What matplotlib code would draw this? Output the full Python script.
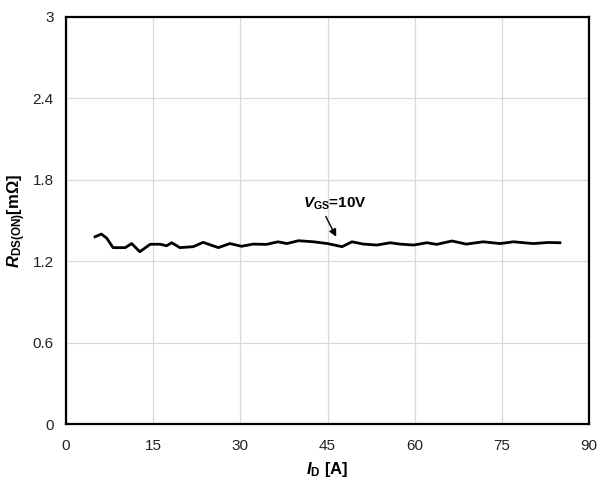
import numpy as np
import matplotlib
matplotlib.use("Agg")
import matplotlib.pyplot as plt

# Data (I_D in A, R_DS(on) in mOhm)
i_d = [5.0, 6.1, 7.0, 8.1, 10.2, 11.3, 12.7, 14.5, 16.2, 17.3, 18.2, 19.6,
       21.9, 23.6, 26.2, 28.2, 30.2, 32.2, 34.5, 36.5, 38.0, 40.0, 42.6,
       45.0, 47.5, 49.2, 51.2, 53.5, 55.8, 57.5, 59.8, 62.1, 63.8, 66.4,
       68.9, 71.8, 74.7, 77.0, 80.4, 83.0, 85.0]
r_ds = [1.38, 1.40, 1.37, 1.30, 1.30, 1.33, 1.27, 1.325, 1.325, 1.314, 1.336, 1.30,
        1.307, 1.339, 1.30, 1.33, 1.31, 1.326, 1.324, 1.343, 1.33, 1.351, 1.343,
        1.33, 1.307, 1.343, 1.326, 1.319, 1.336, 1.326, 1.319, 1.336, 1.324, 1.349,
        1.326, 1.343, 1.33, 1.343, 1.33, 1.338, 1.336]

x_ticks = [0, 15, 30, 45, 60, 75, 90]
y_ticks = [0, 0.6, 1.2, 1.8, 2.4, 3.0]
y_tick_labels = ["0", "0.6", "1.2", "1.8", "2.4", "3"]

plt.rcParams["font.family"] = ["Liberation Sans", "DejaVu Sans"]
plt.rcParams["mathtext.fontset"] = "custom"
plt.rcParams["mathtext.rm"] = "Liberation Sans:bold"
plt.rcParams["mathtext.bf"] = "Liberation Sans:bold"
plt.rcParams["mathtext.it"] = "Liberation Sans:italic:bold"

fig = plt.figure(figsize=(5.98, 4.84), dpi=100)
ax = fig.add_axes([66 / 598, 60 / 484, 523 / 598, 407 / 484])

ax.plot(i_d, r_ds, color="black", lw=2.0, solid_joinstyle="round")

ax.set_xlim(0, 90)
ax.set_ylim(0, 3)
ax.set_xticks(x_ticks)
ax.set_yticks(y_ticks)
ax.set_yticklabels(y_tick_labels)
ax.tick_params(length=0, labelsize=11, colors="#222222")
ax.tick_params(axis="x", pad=11)
ax.tick_params(axis="y", pad=9)
ax.grid(True, color="#d9d9d9", lw=0.9)
ax.set_axisbelow(True)
for s in ax.spines.values():
    s.set_linewidth(1.6)
    s.set_color("black")

ax.set_xlabel(r"$\mathit{I}_{\mathrm{D}}$ [A]", fontsize=12, fontweight="bold", labelpad=5)
ax.set_ylabel(r"$\mathit{R}_{\mathrm{DS(ON)}}$[m$\Omega$]", fontsize=12, fontweight="bold",
              labelpad=3, y=0.5)

ax.text(40.8, 1.62, r"$\mathit{V}_{\mathrm{GS}}$=10V", fontsize=11, fontweight="bold",
        ha="left", va="center")
ax.annotate("", xy=(46.5, 1.38), xytext=(44.7, 1.53),
            arrowprops=dict(arrowstyle="-|>", color="black", lw=1.0, mutation_scale=11,
                            shrinkA=0, shrinkB=0))

fig.savefig("out.png", dpi=100)
